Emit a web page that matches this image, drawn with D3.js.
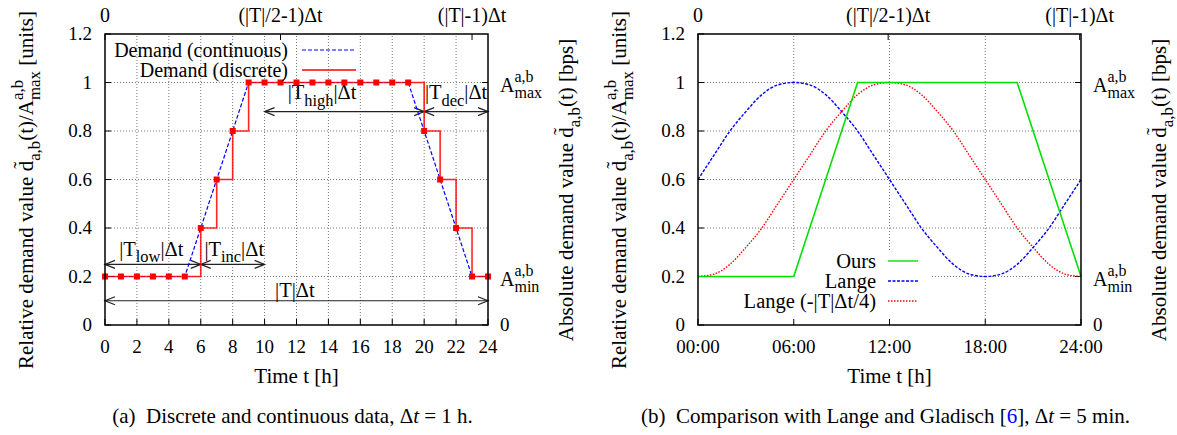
<!DOCTYPE html>
<html>
<head>
<meta charset="utf-8">
<script src="https://cdn.jsdelivr.net/npm/d3@7"></script>
<style>
  body { margin: 0; background: #fff; }
  text { font-family: "Liberation Serif", "Times New Roman", serif; fill: #000; }
</style>
</head>
<body>
<svg id="chart" width="1177" height="435"></svg>
<script>
// ---- data ----
const hours = [0,1,2,3,4,5,6,7,8,9,10,11,12,13,14,15,16,17,18,19,20,21,22,23,24]
const discrete = [0.2,0.2,0.2,0.2,0.2,0.2,0.4,0.6,0.8,1,1,1,1,1,1,1,1,1,1,1,0.8,0.6,0.4,0.2,0.2]
const contT = [0,5,9,19,23,24]
const contV = [0.2,0.2,1,1,0.2,0.2]
const oursT = [0,6,10,20,24]
const oursV = [0.2,0.2,1,1,0.2]
const lange = [0.6,0.7,0.8,0.88,0.95,0.99,1,0.99,0.95,0.88,0.8,0.7,0.6,0.5,0.4,0.32,0.25,0.21,0.2,0.21,0.25,0.32,0.4,0.5,0.6]
const langeShift = [0.2,0.21,0.25,0.32,0.4,0.5,0.6,0.7,0.8,0.88,0.95,0.99,1,0.99,0.95,0.88,0.8,0.7,0.6,0.5,0.4,0.32,0.25,0.21,0.2]

const yTicks = [0,0.2,0.4,0.6,0.8,1,1.2]
const xTicksA = [0,2,4,6,8,10,12,14,16,18,20,22,24]
const xTicksB = [0,6,12,18,24]
const xTickLabelsB = ["00:00","06:00","12:00","18:00","24:00"]
const x2TicksA = [0,11,23]
const x2TicksB = [0,11+55/60,23+55/60]
const x2Labels = ["0","(|T|/2-1)\u0394t","(|T|-1)\u0394t"]

// spans: [from, to, arrow y, label x, label y, subscript]
const spans = [
  [0, 6, 0.25, 2.9, 0.285, "low"],
  [6, 10, 0.25, 8.1, 0.285, "inc"],
  [0, 24, 0.1, 11.9, 0.116, null],
  [10, 20, 0.88, 13.6, 0.93, "high"],
  [20, 24, 0.88, 22, 0.93, "dec"]
]

const FS = 19      // tick labels
const FT = 21      // axis titles
const FK = 20.5    // key / annotations
const svg = d3.select("#chart")

// rich text: strings are normal, {sub}, {sup}, {sup,sub} stacked
function rich(text, parts, fs) {
  const small = fs * 0.8
  let cur = 0, pad = 0
  parts.forEach(p => {
    if (typeof p === "string") {
      text.append("tspan").attr("dx", pad).attr("dy", -cur).attr("font-size", fs).text(p)
      cur = 0; pad = 0
    } else if (p.sub && p.sup) {
      const s1 = text.append("tspan").attr("dx", pad).attr("dy", fs * 0.32 - cur).attr("font-size", small).text(p.sub)
      const w1 = s1.node().getComputedTextLength()
      const s2 = text.append("tspan").attr("dx", -w1).attr("dy", -fs * 0.8).attr("font-size", small).text(p.sup)
      const w2 = s2.node().getComputedTextLength()
      cur = fs * 0.32 - fs * 0.8
      pad = Math.max(0, w1 - w2)
    } else if (p.sub) {
      text.append("tspan").attr("dx", pad).attr("dy", fs * 0.32 - cur).attr("font-size", small).text(p.sub)
      cur = fs * 0.32; pad = 0
    } else if (p.sup) {
      text.append("tspan").attr("dx", pad).attr("dy", -fs * 0.42 - cur).attr("font-size", small).text(p.sup)
      cur = -fs * 0.42; pad = 0
    }
  })
  return text
}

function arrowHead(g, x, y, dir) {
  g.append("path")
    .attr("d", `M${x - dir * 10},${y - 4}L${x},${y}L${x - dir * 10},${y + 4}`)
    .attr("fill", "none").attr("stroke", "#222").attr("stroke-width", 1.2)
}

function panel(opt) {
  const x = d3.scaleLinear().domain([0, 24]).range([opt.left, opt.left + 383])
  const y = d3.scaleLinear().domain([0, 1.2]).range([325, 34])
  const g = svg.append("g")

  // grid
  const grid = g.append("g").attr("stroke", "#777").attr("stroke-width", 1).attr("stroke-dasharray", "1,2")
  grid.selectAll("line.h").data([0.2,0.4,0.6,0.8,1]).join("line")
    .attr("x1", x(0)).attr("x2", x(24)).attr("y1", d => y(d)).attr("y2", d => y(d))
  grid.selectAll("line.v").data(opt.xTicks.filter(d => d > 0 && d < 24)).join("line")
    .attr("x1", d => x(d)).attr("x2", d => x(d)).attr("y1", y(0)).attr("y2", y(1.2))

  if (opt.keyBox) {
    g.append("rect").attr("x", opt.keyBox[0]).attr("y", opt.keyBox[1])
      .attr("width", opt.keyBox[2]).attr("height", opt.keyBox[3]).attr("fill", "#fff")
  }

  // ticks (inward)
  const tk = g.append("g").attr("stroke", "#000").attr("stroke-width", 1)
  yTicks.forEach(v => tk.append("line").attr("x1", x(0)).attr("x2", x(0) + 6).attr("y1", y(v)).attr("y2", y(v)))
  ;[0, 0.2, 1].forEach(v => tk.append("line").attr("x1", x(24)).attr("x2", x(24) - 6).attr("y1", y(v)).attr("y2", y(v)))
  opt.xTicks.forEach(v => tk.append("line").attr("x1", x(v)).attr("x2", x(v)).attr("y1", y(0)).attr("y2", y(0) - 6))
  opt.x2Ticks.forEach(v => tk.append("line").attr("x1", x(v)).attr("x2", x(v)).attr("y1", y(1.2)).attr("y2", y(1.2) + 6))

  // tick labels
  yTicks.forEach(v => g.append("text").attr("x", x(0) - 13).attr("y", y(v) + 6)
    .attr("text-anchor", "end").attr("font-size", FS).text(v))
  opt.xTicks.forEach((v, i) => g.append("text").attr("x", x(v)).attr("y", 353)
    .attr("text-anchor", "middle").attr("font-size", FS).text(opt.xLabels[i]))
  opt.x2Ticks.forEach((v, i) => g.append("text").attr("x", x(v)).attr("y", 22)
    .attr("text-anchor", "middle").attr("font-size", 20).text(x2Labels[i]))
  g.append("text").attr("x", x(24) + 12).attr("y", y(0) + 6).attr("font-size", FS).text("0")
  rich(g.append("text").attr("x", x(24) + 12).attr("y", y(1) + 9), ["A", {sup: "a,b", sub: "max"}], 20)
  rich(g.append("text").attr("x", x(24) + 12).attr("y", y(0.2) + 9), ["A", {sup: "a,b", sub: "min"}], 20)

  // axis titles
  const cy = 190
  rich(g.append("text").attr("text-anchor", "middle")
      .attr("transform", `translate(${x(0) - 72},${cy}) rotate(-90)`),
    ["Relative demand value d\u0303", {sub: "a,b"}, "(t)/A", {sup: "a,b", sub: "max"}, " [units]"], FT)
  rich(g.append("text").attr("text-anchor", "middle")
      .attr("transform", `translate(${x(24) + 85},${cy}) rotate(-90)`),
    ["Absolute demand value d\u0303", {sub: "a,b"}, "(t) [bps]"], FT)
  g.append("text").attr("x", (x(0) + x(24)) / 2).attr("y", 383)
    .attr("text-anchor", "middle").attr("font-size", FT).text("Time t [h]")

  opt.draw(g, x, y)

  // border
  g.append("rect").attr("x", x(0)).attr("y", y(1.2)).attr("width", x(24) - x(0)).attr("height", y(0) - y(1.2))
    .attr("fill", "none").attr("stroke", "#000").attr("stroke-width", 1.5)

  // caption
  const cap = g.append("text").attr("x", (x(0) + x(24)) / 2 - 4).attr("y", 423)
    .attr("text-anchor", "middle").attr("font-size", 21)
  opt.caption(cap)
}

// ---- panel (a) ----
panel({
  left: 105,
  xTicks: xTicksA,
  xLabels: xTicksA.map(String),
  x2Ticks: x2TicksA,
  draw: (g, x, y) => {
    // annotations
    spans.forEach(s => {
      g.append("line").attr("x1", x(s[0])).attr("x2", x(s[1])).attr("y1", y(s[2])).attr("y2", y(s[2]))
        .attr("stroke", "#222").attr("stroke-width", 1.2)
      arrowHead(g, x(s[0]), y(s[2]), -1)
      arrowHead(g, x(s[1]), y(s[2]), 1)
      const t = g.append("text").attr("x", x(s[3])).attr("y", y(s[4])).attr("text-anchor", "middle")
      if (s[5]) rich(t, ["|T", {sub: s[5]}, "|\u0394t"], FK)
      else rich(t, ["|T|\u0394t"], FK)
    })
    const cont = d3.line().x((d, i) => x(contT[i])).y(d => y(d))
    g.append("path").attr("d", cont(contV)).attr("fill", "none")
      .attr("stroke", "#0000ff").attr("stroke-width", 1.2).attr("stroke-dasharray", "4,2")
    const step = d3.line().x((d, i) => x(hours[i])).y(d => y(d)).curve(d3.curveStepAfter)
    g.append("path").attr("d", step(discrete)).attr("fill", "none")
      .attr("stroke", "#ff0000").attr("stroke-width", 1.6).attr("stroke-opacity", 0.85)
    g.selectAll("rect.pt").data(discrete).join("rect")
      .attr("x", (d, i) => x(hours[i]) - 3).attr("y", d => y(d) - 3)
      .attr("width", 6).attr("height", 6).attr("fill", "#ff0000")
    // key
    g.append("text").attr("x", 288).attr("y", 57).attr("text-anchor", "end").attr("font-size", 20).text("Demand (continuous)")
    g.append("text").attr("x", 288).attr("y", 77).attr("text-anchor", "end").attr("font-size", 20).text("Demand (discrete)")
    g.append("line").attr("x1", 302).attr("x2", 356).attr("y1", 50).attr("y2", 50)
      .attr("stroke", "#0000ff").attr("stroke-width", 1.2).attr("stroke-dasharray", "4,2")
    g.append("line").attr("x1", 302).attr("x2", 356).attr("y1", 70).attr("y2", 70)
      .attr("stroke", "#ff0000").attr("stroke-width", 1.6)
  },
  caption: t => {
    t.append("tspan").text("(a)\u2002Discrete and continuous data, \u0394")
    t.append("tspan").attr("font-style", "italic").text("t")
    t.append("tspan").text(" = 1 h.")
  }
})

// ---- panel (b) ----
panel({
  left: 698,
  xTicks: xTicksB,
  xLabels: xTickLabelsB,
  x2Ticks: x2TicksB,
  keyBox: [740, 250, 190, 74],
  draw: (g, x, y) => {
    const lin = (ts) => d3.line().x((d, i) => x(ts[i])).y(d => y(d))
    g.append("path").attr("d", lin(hours).curve(d3.curveMonotoneX)(langeShift)).attr("fill", "none")
      .attr("stroke", "#ff0000").attr("stroke-width", 1.4).attr("stroke-dasharray", "1.5,1.5")
    g.append("path").attr("d", lin(hours).curve(d3.curveMonotoneX)(lange)).attr("fill", "none")
      .attr("stroke", "#0000ff").attr("stroke-width", 1.4).attr("stroke-dasharray", "3,1.5")
    g.append("path").attr("d", lin(oursT)(oursV)).attr("fill", "none")
      .attr("stroke", "#00e000").attr("stroke-width", 1.6)
    const keys = [["Ours", "#00e000", null], ["Lange", "#0000ff", "3,1.5"], ["Lange (-|T|\u0394t/4)", "#ff0000", "1.5,1.5"]]
    keys.forEach((k, i) => {
      g.append("text").attr("x", 876).attr("y", 268 + i * 20).attr("text-anchor", "end").attr("font-size", FK).text(k[0])
      g.append("line").attr("x1", 888).attr("x2", 918).attr("y1", 261 + i * 20).attr("y2", 261 + i * 20)
        .attr("stroke", k[1]).attr("stroke-width", 1.4).attr("stroke-dasharray", k[2])
    })
  },
  caption: t => {
    t.append("tspan").text("(b)\u2002Comparison with Lange and Gladisch [")
    t.append("tspan").attr("fill", "#0000ff").text("6")
    t.append("tspan").text("], \u0394")
    t.append("tspan").attr("font-style", "italic").text("t")
    t.append("tspan").text(" = 5 min.")
  }
})
</script>
</body>
</html>
